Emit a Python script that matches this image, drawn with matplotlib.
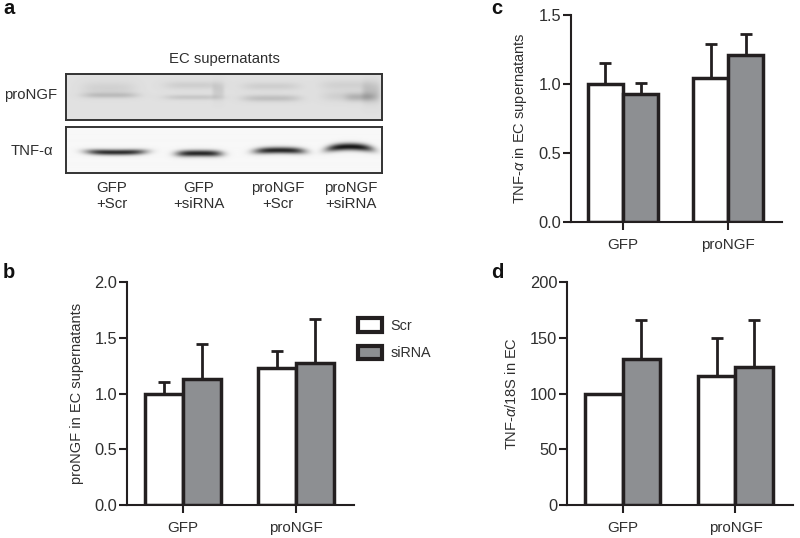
import numpy as np
import matplotlib
matplotlib.use('Agg')
import matplotlib.pyplot as plt
from matplotlib.patches import Patch

plt.rcParams['font.family'] = ['Liberation Sans', 'DejaVu Sans']
plt.rcParams['mathtext.fontset'] = 'custom'
plt.rcParams['mathtext.rm'] = 'Liberation Sans'
plt.rcParams['mathtext.it'] = 'Liberation Sans:italic'

W, H = 800, 538
INK = '#2f2f2f'
EDGE = '#231f20'
GREY = '#8d8f92'

# chart values
groups = ['GFP', 'proNGF']
series = ['Scr', 'siRNA']

b_scr = [1.0, 1.23]
b_scr_top = [1.10, 1.38]
b_sirna = [1.13, 1.27]
b_sirna_top = [1.44, 1.67]

c_scr = [1.0, 1.04]
c_scr_top = [1.15, 1.29]
c_sirna = [0.93, 1.21]
c_sirna_top = [1.01, 1.36]

d_scr = [100, 116]
d_scr_top = [np.nan, 150]
d_sirna = [131, 124]
d_sirna_top = [166, 166]

blot_labels = ['GFP\n+Scr', 'GFP\n+siRNA', 'proNGF\n+Scr', 'proNGF\n+siRNA']


def px_axes(fig, left, top, right, bottom):
    return fig.add_axes([left / W, 1 - bottom / H, (right - left) / W, (bottom - top) / H])


def bar_panel(fig, box, scr, scr_top, sirna, sirna_top, ymax, yticks, yfmt, ylabel, label_x):
    ax = px_axes(fig, *box)
    x = np.array([0, 3])

    # error bars sit behind the bars, only the upper half is shown
    for pos, mean, top in [(x - 0.5, scr, scr_top), (x + 0.5, sirna, sirna_top)]:
        mean = np.array(mean, dtype=float)
        top = np.array(top, dtype=float)
        ax.errorbar(pos, mean, yerr=[np.zeros(2), top - mean], fmt='none', ecolor=EDGE,
                    elinewidth=2.0, capsize=4.4, capthick=2.0, zorder=1)

    ax.bar(x - 0.5, scr, width=1, color='white', edgecolor=EDGE, linewidth=2.5, zorder=2)
    ax.bar(x + 0.5, sirna, width=1, color=GREY, edgecolor=EDGE, linewidth=2.5, zorder=3)

    ax.set_xlim(-1.48, 4.53)
    ax.set_ylim(0, ymax)
    ax.set_xticks(x)
    ax.set_xticklabels(groups)
    ax.set_yticks(yticks)
    ax.set_yticklabels([yfmt % t for t in yticks])
    ax.tick_params(axis='y', length=5.5, width=1.5, color=EDGE, labelsize=11.8, labelcolor=INK, pad=1.5)
    ax.tick_params(axis='x', length=5.5, width=1.5, color=EDGE, labelsize=10.9, labelcolor=INK, pad=6)
    ax.spines['top'].set_visible(False)
    ax.spines['right'].set_visible(False)
    ax.spines['left'].set_linewidth(1.5)
    ax.spines['bottom'].set_linewidth(1.5)
    ax.spines['left'].set_color(EDGE)
    ax.spines['bottom'].set_color(EDGE)
    ax.patch.set_alpha(0)

    fig.text(label_x / W, 1 - (box[1] + box[3]) / 2 / H, ylabel, rotation=90, ha='center',
             va='center', fontsize=10.5, color=INK)
    return ax


def add_band(img, xx, yy, x0, x1, yc, sigma, strength, arch=0.0):
    # soft horizontal smear, used for the western blot bands
    mid = (x0 + x1) / 2
    half = (x1 - x0) / 2
    u = (xx - mid) / half
    profile = np.exp(-np.abs(u) ** 4)
    centre = yc + arch * u ** 2
    img -= strength * profile * np.exp(-((yy - centre) / sigma) ** 2)


def blot(fig, box, background, bands):
    left, top, right, bottom = box
    ax = px_axes(fig, *box)
    xx, yy = np.meshgrid(np.arange(left, right, 0.5), np.arange(top, bottom, 0.5))
    img = np.full(xx.shape, background, dtype=float)
    for band in bands:
        add_band(img, xx, yy, *band)
    ax.imshow(np.clip(img, 0, 1), cmap='gray', vmin=0, vmax=1, aspect='auto',
              extent=[left, right, bottom, top], interpolation='bilinear')
    ax.set_xticks([])
    ax.set_yticks([])
    for s in ax.spines.values():
        s.set_linewidth(1.4)
        s.set_color('#333333')


fig = plt.figure(figsize=(W / 100, H / 100), dpi=100, facecolor='white')

# panel a, the blots
blot(fig, (66, 74, 382, 120), 0.88, [
    (82, 138, 95, 2.8, 0.13),
    (82, 135, 88, 6.5, 0.06),
    (164, 222, 97, 2.6, 0.10),
    (164, 222, 85, 4.0, 0.07),
    (212, 224, 91, 8.0, 0.08),
    (242, 300, 98, 3.4, 0.13),
    (242, 300, 86, 4.0, 0.07),
    (322, 376, 96, 5.0, 0.07),
    (345, 376, 97, 4.0, 0.12),
    (362, 380, 92, 10.0, 0.12),
    (320, 375, 85, 5.0, 0.06),
])
blot(fig, (66, 127, 382, 173), 0.97, [
    (86, 146, 152.5, 2.8, 0.80, -0.6),
    (176, 222, 153.5, 3.2, 0.82, 0.4),
    (254, 305, 150.5, 3.2, 0.82, 1.0),
    (326, 373, 147, 3.6, 0.88, 2.5),
])

fig.text(224 / W, 1 - 59 / H, 'EC supernatants', ha='center', va='center', fontsize=10.7, color=INK)
fig.text(57 / W, 1 - 95 / H, 'proNGF', ha='right', va='center', fontsize=10.7, color=INK)
fig.text(53 / W, 1 - 151 / H, 'TNF-α', ha='right', va='center', fontsize=10.7, color=INK)
for cx, lab in zip([112, 199, 278, 351], blot_labels):
    fig.text(cx / W, 1 - 196 / H, lab, ha='center', va='center', fontsize=10.8, color=INK, linespacing=1.15)

# bar panels
ax_b = bar_panel(fig, (127, 282, 354, 505), b_scr, b_scr_top, b_sirna, b_sirna_top, 2.0,
                 [0, 0.5, 1.0, 1.5, 2.0], '%.1f', 'proNGF in EC supernatants', 77)
bar_panel(fig, (571, 15, 782, 222), c_scr, c_scr_top, c_sirna, c_sirna_top, 1.5,
          [0, 0.5, 1.0, 1.5], '%.1f', r'TNF-$\alpha$ in EC supernatants', 520)
bar_panel(fig, (567, 282, 793, 505), d_scr, d_scr_top, d_sirna, d_sirna_top, 200,
          [0, 50, 100, 150, 200], '%d', r'TNF-$\alpha$/18S in EC', 512)

# legend lives in panel b
handles = [Patch(facecolor='white', edgecolor=EDGE, linewidth=3.0, label=series[0]),
           Patch(facecolor=GREY, edgecolor=EDGE, linewidth=3.0, label=series[1])]
fig.legend(handles=handles, loc='upper left', bbox_to_anchor=(354 / W, 1 - 314 / H), frameon=False,
           fontsize=10.4, labelcolor=INK, handlelength=1.62, handleheight=1.05, handletextpad=0.6,
           labelspacing=0.88, borderpad=0.3, borderaxespad=0)

# panel letters
for x, y, letter in [(3, 9, 'a'), (3, 272, 'b'), (491, 9, 'c'), (491, 272, 'd')]:
    fig.text(x / W, 1 - y / H, letter, ha='left', va='center', fontsize=14.5, fontweight='bold', color='#111111')

plt.savefig('out.png', dpi=100)
